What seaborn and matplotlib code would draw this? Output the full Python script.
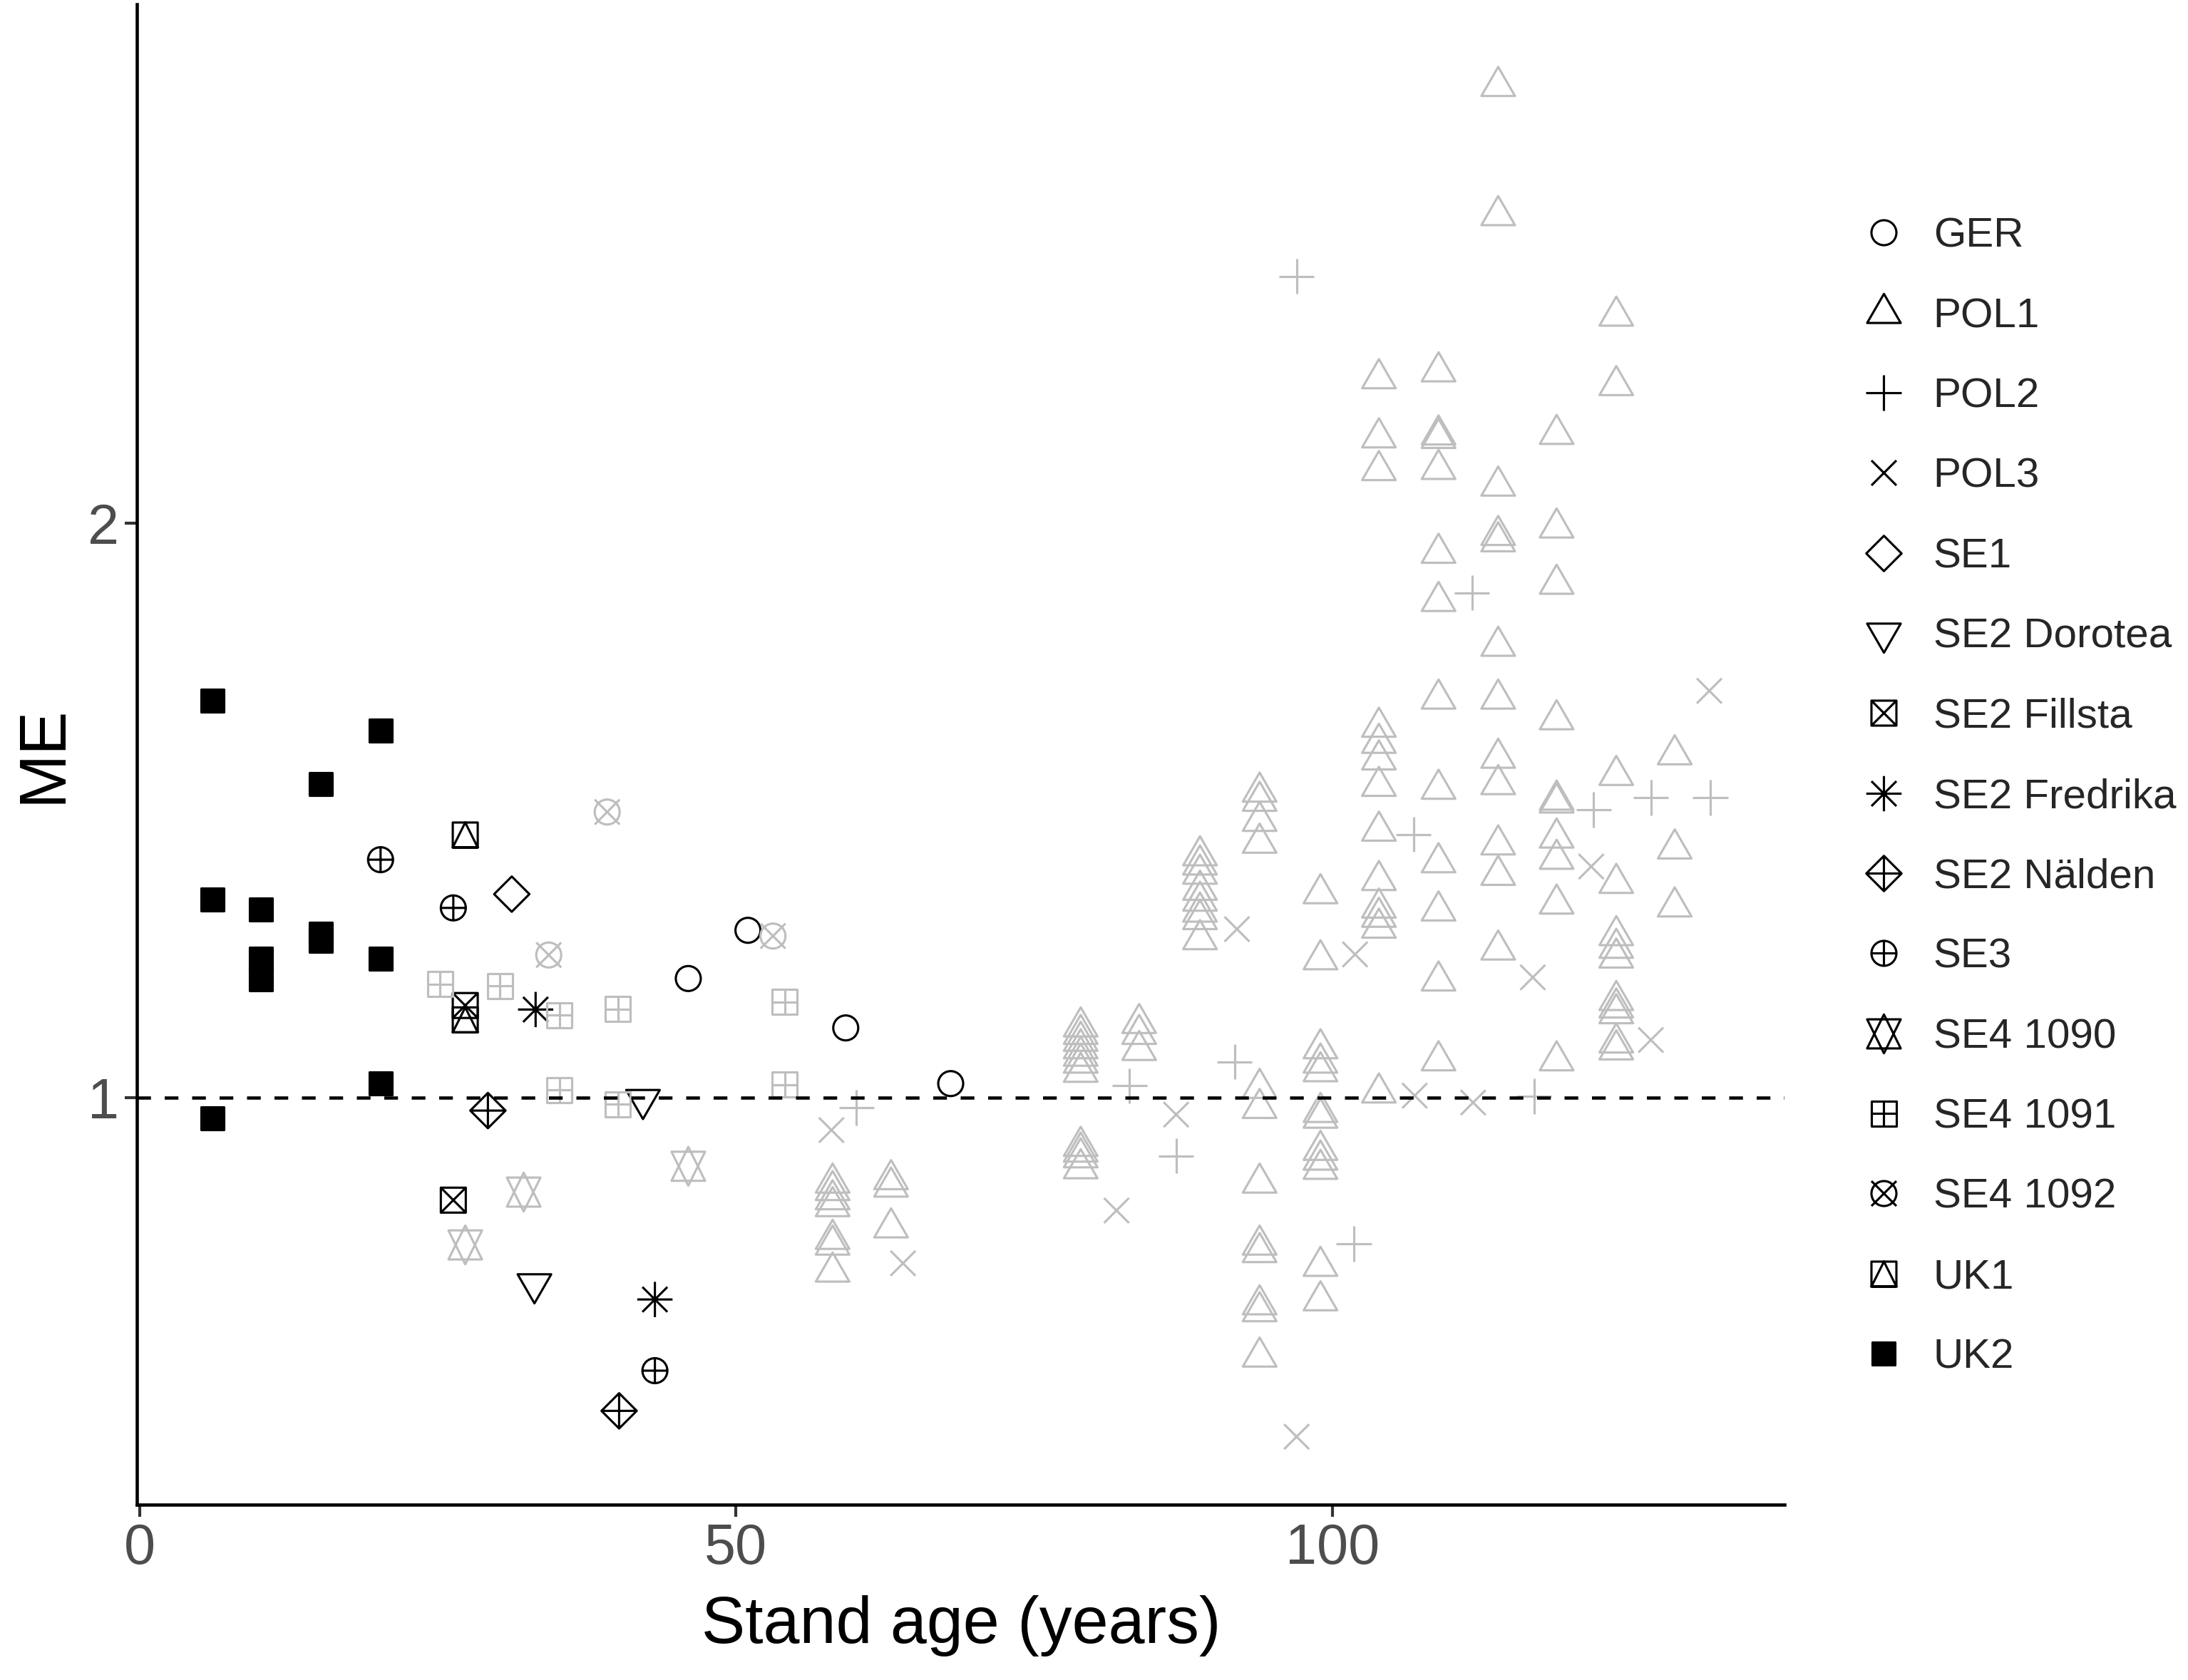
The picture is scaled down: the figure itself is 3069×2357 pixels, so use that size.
import numpy as np
import pandas as pd
import matplotlib
matplotlib.use("Agg")
import matplotlib.pyplot as plt
from matplotlib.path import Path
from matplotlib.lines import Line2D
import seaborn as sns

# ---- values: stand age (years) and ME per site ----
ger_age = [46.0, 51.0, 59.2, 68.0]
ger_me = [1.207, 1.291, 1.121, 1.024]

pol1_age = [58.1, 58.1, 58.1, 58.1, 58.1, 58.1, 58.1,
            63.0, 63.0, 63.0,
            78.9, 78.9, 78.9, 78.9, 78.9, 78.9, 78.9, 78.9, 78.9, 78.9, 78.9,
            83.8, 83.8, 83.8,
            88.9, 88.9, 88.9, 88.9, 88.9, 88.9, 88.9, 88.9,
            93.9, 93.9, 93.9, 93.9, 93.9, 93.9, 93.9, 93.9, 93.9, 93.9, 93.9, 93.9,
            99.0, 99.0, 99.0, 99.0, 99.0, 99.0, 99.0, 99.0, 99.0, 99.0, 99.0, 99.0,
            103.9, 103.9, 103.9, 103.9, 103.9, 103.9, 103.9, 103.9, 103.9, 103.9, 103.9, 103.9, 103.9,
            108.9, 108.9, 108.9, 108.9, 108.9, 108.9, 108.9, 108.9, 108.9, 108.9, 108.9, 108.9,
            113.9, 113.9, 113.9, 113.9, 113.9, 113.9, 113.9, 113.9, 113.9, 113.9, 113.9, 113.9,
            118.8, 118.8, 118.8, 118.8, 118.8, 118.8, 118.8, 118.8, 118.8, 118.8,
            123.8, 123.8, 123.8, 123.8, 123.8, 123.8, 123.8, 123.8, 123.8, 123.8, 123.8, 123.8,
            128.7, 128.7, 128.7]
pol1_me = [0.851, 0.838, 0.822, 0.810, 0.753, 0.743, 0.696,
           0.857, 0.844, 0.773,
           1.123, 1.110, 1.098, 1.085, 1.072, 1.060, 1.044, 0.915, 0.905, 0.895, 0.876,
           1.129, 1.110, 1.082,
           1.421, 1.405, 1.389, 1.361, 1.342, 1.323, 1.310, 1.275,
           1.532, 1.516, 1.481, 1.443, 1.016, 0.981, 0.851, 0.743, 0.730, 0.639, 0.627, 0.548,
           1.355, 1.240, 1.085, 1.060, 1.045, 0.974, 0.964, 0.908, 0.891, 0.875, 0.706, 0.646,
           2.252, 2.149, 2.092, 1.645, 1.617, 1.588, 1.542, 1.464, 1.378, 1.330, 1.314, 1.295, 1.008,
           2.264, 2.154, 2.148, 2.094, 1.948, 1.864, 1.694, 1.537, 1.409, 1.325, 1.203, 1.064,
           2.761, 2.536, 2.065, 1.979, 1.968, 1.786, 1.694, 1.591, 1.545, 1.440, 1.387, 1.257,
           2.155, 1.992, 1.894, 1.658, 1.518, 1.513, 1.452, 1.415, 1.337, 1.064,
           2.361, 2.240, 1.561, 1.373, 1.282, 1.260, 1.243, 1.169, 1.156, 1.146, 1.095, 1.083,
           1.597, 1.433, 1.332]

pol2_age = [97.0, 111.7, 106.8, 121.9, 126.7, 131.7, 91.8, 83.0, 86.9, 60.1, 101.8, 116.9]
pol2_me = [2.430, 1.879, 1.458, 1.501, 1.522, 1.522, 1.062, 1.020, 0.898, 0.982, 0.745, 1.002]

pol3_age = [131.6, 121.7, 126.7, 116.8, 101.9, 92.0, 106.9, 111.8, 97.0, 86.9, 81.9, 58.0, 64.0]
pol3_me = [1.708, 1.402, 1.100, 1.209, 1.249, 1.293, 1.003, 0.991, 0.409, 0.970, 0.803, 0.943, 0.711]

se1_age = [31.2]
se1_me = [1.354]

se2_dorotea_age = [42.2, 33.1]
se2_dorotea_me = [0.996, 0.675]

se2_fillsta_age = [27.3, 26.3]
se2_fillsta_me = [1.160, 0.821]

se2_fredrika_age = [33.2, 43.2]
se2_fredrika_me = [1.153, 0.648]

se2_nalden_age = [29.2, 40.2]
se2_nalden_me = [0.977, 0.454]

se3_age = [20.2, 26.3, 43.2]
se3_me = [1.414, 1.330, 0.524]

se4_1090_age = [32.2, 27.3, 46.0]
se4_1090_me = [0.835, 0.743, 0.880]

se4_1091_age = [25.2, 30.2, 35.2, 40.1, 35.2, 40.1, 54.1, 54.1]
se4_1091_me = [1.197, 1.194, 1.143, 1.154, 1.013, 0.988, 1.166, 1.022]

se4_1092_age = [39.2, 34.3, 53.1]
se4_1092_me = [1.497, 1.248, 1.281]

uk1_age = [27.3, 27.3]
uk1_me = [1.457, 1.135]

uk2_age = [6.1, 6.1, 6.1, 10.2, 10.2, 10.2, 15.2, 15.2, 15.2, 20.2, 20.2, 20.2]
uk2_me = [1.691, 1.345, 0.964, 1.327, 1.242, 1.206, 1.546, 1.285, 1.273, 1.639, 1.242, 1.024]

sites = ["GER", "POL1", "POL2", "POL3", "SE1", "SE2 Dorotea", "SE2 Fillsta",
         "SE2 Fredrika", "SE2 Nälden", "SE3", "SE4 1090", "SE4 1091",
         "SE4 1092", "UK1", "UK2"]
site_data = {
    "GER": (ger_age, ger_me),
    "POL1": (pol1_age, pol1_me),
    "POL2": (pol2_age, pol2_me),
    "POL3": (pol3_age, pol3_me),
    "SE1": (se1_age, se1_me),
    "SE2 Dorotea": (se2_dorotea_age, se2_dorotea_me),
    "SE2 Fillsta": (se2_fillsta_age, se2_fillsta_me),
    "SE2 Fredrika": (se2_fredrika_age, se2_fredrika_me),
    "SE2 Nälden": (se2_nalden_age, se2_nalden_me),
    "SE3": (se3_age, se3_me),
    "SE4 1090": (se4_1090_age, se4_1090_me),
    "SE4 1091": (se4_1091_age, se4_1091_me),
    "SE4 1092": (se4_1092_age, se4_1092_me),
    "UK1": (uk1_age, uk1_me),
    "UK2": (uk2_age, uk2_me),
}
grey_sites = ["POL1", "POL2", "POL3", "SE4 1090", "SE4 1091", "SE4 1092"]

df = pd.concat([pd.DataFrame({"site": s, "age": a, "me": m})
                for s, (a, m) in site_data.items()], ignore_index=True)


# ---- R-style point shapes (pch 1..15), in units of the symbol radius ----
def poly(pts):
    verts = list(pts) + [pts[0]]
    codes = [Path.MOVETO] + [Path.LINETO] * (len(pts) - 1) + [Path.CLOSEPOLY]
    return Path(verts, codes)


def seg(p0, p1):
    return Path([p0, p1], [Path.MOVETO, Path.LINETO])


def both(*paths):
    return Path.make_compound_path(*paths)


TRC0, TRC1, TRC2 = 1.5551203015562142, 1.3467736870885984, 0.7775601507781071
S2 = np.sqrt(2)
SQRC = 0.886226925452758

circle = Path.unit_circle()
square = poly([(-1, -1), (1, -1), (1, 1), (-1, 1)])
plus_s = both(seg((-1, 0), (1, 0)), seg((0, -1), (0, 1)))
cross_s = both(seg((-1, -1), (1, 1)), seg((-1, 1), (1, -1)))
plus_l = both(seg((-S2, 0), (S2, 0)), seg((0, -S2), (0, S2)))
diamond = poly([(0, S2), (S2, 0), (0, -S2), (-S2, 0)])
yc = 0.5 * (TRC2 + TRC0)

shapes = {
    "GER": circle,
    "POL1": poly([(0, TRC0), (TRC1, -TRC2), (-TRC1, -TRC2)]),
    "POL2": plus_l,
    "POL3": cross_s,
    "SE1": diamond,
    "SE2 Dorotea": poly([(0, -TRC0), (TRC1, TRC2), (-TRC1, TRC2)]),
    "SE2 Fillsta": both(square, cross_s),
    "SE2 Fredrika": both(plus_l, cross_s),
    "SE2 Nälden": both(diamond, plus_l),
    "SE3": both(circle, plus_s),
    "SE4 1090": both(poly([(0, -TRC0), (TRC1, yc), (-TRC1, yc)]),
                     poly([(0, TRC0), (TRC1, -yc), (-TRC1, -yc)])),
    "SE4 1091": both(square, plus_s),
    "SE4 1092": both(circle, cross_s),
    "UK1": both(square, poly([(0, 1), (1, -1), (-1, -1)])),
    "UK2": poly([(-SQRC, -SQRC), (SQRC, -SQRC), (SQRC, SQRC), (-SQRC, SQRC)]),
}

R_PT = 4.2   # symbol radius in points
LW = 0.75


def marker_size(path):
    return 2 * np.abs(path.vertices).max() * R_PT


# ---- figure ----
sns.set_theme(style="ticks")
plt.rcParams["font.family"] = ["Liberation Sans", "DejaVu Sans"]

fig = plt.figure(figsize=(3070 / 300, 2357 / 300), dpi=300)
ax = fig.add_axes([0.0627, 0.1045, 0.7526, 0.8930])

for s in sites:
    col = "#BEBEBE" if s in grey_sites else "black"
    face = col if s == "UK2" else "none"
    sub = df[df["site"] == s]
    sns.scatterplot(data=sub, x="age", y="me", ax=ax, marker=shapes[s],
                    s=marker_size(shapes[s]) ** 2, color=col, facecolor=face,
                    edgecolor=col, linewidth=LW, zorder=3)

ax.axhline(1, color="black", lw=1.1, dashes=(4.2, 4.2), zorder=4)

ax.set_xlim(-0.2, 137.9)
ax.set_ylim(0.291, 2.904)
ax.set_xticks([0, 50, 100])
ax.set_yticks([1, 2])
ax.set_xlabel("Stand age (years)", fontsize=22, color="black", labelpad=6.5)
ax.set_ylabel("ME", fontsize=22, color="black", labelpad=4.5)
ax.tick_params(axis="both", length=4, width=1.0, color="#333333",
               labelsize=19, labelcolor="#4D4D4D", pad=2)
sns.despine(ax=ax)
for side in ["left", "bottom"]:
    ax.spines[side].set_linewidth(1.1)
    ax.spines[side].set_color("black")

handles = []
for s in sites:
    handles.append(Line2D([], [], linestyle="none", marker=shapes[s],
                          markersize=marker_size(shapes[s]),
                          markerfacecolor="black" if s == "UK2" else "none",
                          markeredgecolor="black", markeredgewidth=LW))
fig.legend(handles, sites, loc="upper left", bbox_to_anchor=(0.8472, 0.8707),
           frameon=False, fontsize=14, borderpad=0, handlelength=1.4,
           handletextpad=0.5, labelspacing=1.0, borderaxespad=0)

fig.savefig("out.png", dpi=300)
